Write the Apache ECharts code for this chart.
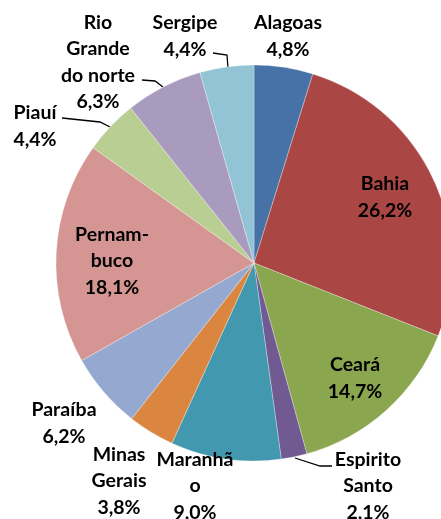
<!DOCTYPE html>
<html>
<head>
<meta charset="utf-8">
<script src="https://cdn.jsdelivr.net/npm/echarts@6/dist/echarts.min.js"></script>
<style>
  html, body { margin: 0; padding: 0; background: #fff; }
  #chart { width: 441px; height: 519px; }
</style>
</head>
<body>
<div id="chart"></div>
<script>
// estados (nomes com quebra de linha como no gráfico original)
var estados = ['Alagoas', 'Bahia', 'Ceará', 'Espirito\nSanto', 'Maranhã\no', 'Minas\nGerais',
  'Paraíba', 'Pernam-\nbuco', 'Piauí', 'Rio\nGrande\ndo norte', 'Sergipe'];
var percentuais = [4.8, 26.2, 14.7, 2.1, 9.0, 3.8, 6.2, 18.1, 4.4, 6.3, 4.4];

var cores = ['#4672A8', '#AA4644', '#8AA64F', '#715A92', '#4298AF', '#DA8640',
  '#95A9D0', '#D49593', '#B8CE92', '#A99BBD', '#93C4D5'];
// rótulos dentro da fatia
var dentro = [false, true, true, false, false, false, false, true, false, false, false];
// posição do centro de cada rótulo (px)
var posRotulo = [[288, 36], [385, 197], [355, 378], [368, 486], [195, 486], [119, 481],
  [64, 423], [112, 261], [35, 126], [98, 62], [185, 36]];
// linhas guia (só onde o rótulo fica longe da fatia)
var linhasGuia = {
  3: [[295, 458], [320, 466], [332, 466]],
  8: [[62, 118], [100, 122], [110, 127]],
  9: [[142, 80], [155, 81], [163, 87]],
  10: [[213, 53], [227, 55], [228, 68]]
};

function fmt(v) {
  return v.toFixed(1).replace('.', ',') + '%';
}

var dados = estados.map(function (n, i) {
  return {
    name: n,
    value: percentuais[i],
    itemStyle: {color: cores[i]},
    label: {position: dentro[i] ? 'inside' : 'outside'},
    labelLine: {show: !!linhasGuia[i]}
  };
});

var myChart = echarts.init(document.getElementById('chart'), null, {renderer: 'canvas'});

var option = {
  animation: false,
  series: [{
    type: 'pie',
    center: [254, 263],
    radius: 198,
    startAngle: 90,
    clockwise: true,
    avoidLabelOverlap: false,
    itemStyle: {
      borderColor: 'rgba(255,255,255,0.6)',
      borderWidth: 0.5
    },
    label: {
      color: '#000',
      fontFamily: 'Lato',
      fontWeight: 'bold',
      fontSize: 19.5,
      lineHeight: 26.5,
      align: 'center',
      formatter: function (p) {
        return p.name + '\n' + fmt(p.value);
      }
    },
    labelLine: {
      lineStyle: {color: '#000', width: 1.3},
      length: 10,
      length2: 10
    },
    labelLayout: function (p) {
      var pos = posRotulo[p.dataIndex];
      var out = {
        x: pos[0],
        y: pos[1],
        align: 'center',
        verticalAlign: 'middle'
      };
      if (linhasGuia[p.dataIndex]) {
        out.labelLinePoints = linhasGuia[p.dataIndex];
      }
      return out;
    },
    emphasis: {disabled: true},
    data: dados
  }]
};

myChart.setOption(option);
</script>
</body>
</html>
